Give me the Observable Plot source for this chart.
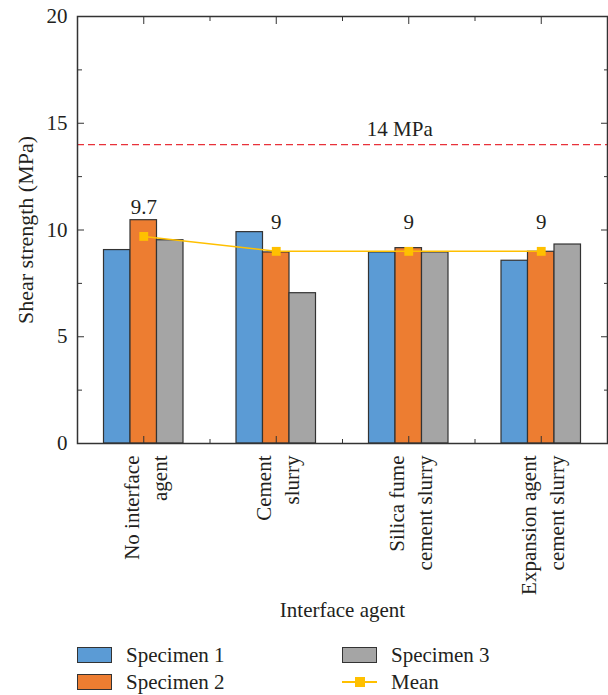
<!DOCTYPE html>
<html><head><meta charset="utf-8">
<script src="https://cdn.jsdelivr.net/npm/d3@7"></script>
<script src="https://cdn.jsdelivr.net/npm/@observablehq/plot@0.6"></script>
<style>
body{margin:0;background:#fff;font-family:'Liberation Serif',serif;color:#231f20;}
#wrap{position:relative;width:608px;height:695px;overflow:hidden;}
#wrap svg{position:absolute;left:0;top:0;}
#wrap svg, #wrap svg text{font-family:'Liberation Serif',serif !important;}
.lg-box{position:absolute;width:33px;height:14px;border:1.5px solid #333;}
.lg-text{position:absolute;font-size:21px;line-height:21px;white-space:nowrap;font-family:'Liberation Serif',serif;}
.lg-line{position:absolute;height:2px;background:#FFC000;}
.lg-sq{position:absolute;width:10px;height:10px;background:#FFC000;}
</style></head><body><div id="wrap"></div>
<script>
// ---- data ----
const categories = ["No interface\nagent", "Cement\nslurry", "Silica fume\ncement slurry", "Expansion agent\ncement slurry"];
const seriesNames = ["Specimen 1", "Specimen 2", "Specimen 3"];
const specimen1 = [9.06, 9.9, 8.95, 8.56];
const specimen2 = [10.46, 8.95, 9.15, 8.98];
const specimen3 = [9.52, 7.04, 8.95, 9.32];
const means = [9.7, 9, 9, 9];
const meanLabels = ["9.7", "9", "9", "9"];
const limitValue = 14;
const limitLabel = "14 MPa";
const yTicks = [0, 5, 10, 15, 20];
const yMinorTicks = [2.5, 7.5, 12.5, 17.5];
const yTitle = "Shear strength (MPa)";
const xTitle = "Interface agent";
const meanName = "Mean";

// ---- styles ----
const colors = ["#5B9BD5", "#ED7D31", "#A5A5A5"];
const meanColor = "#FFC000";
const FONT = "Liberation Serif";
const TXT = "#231f20";
const bw = 0.2; // bar width in category units

const rows = [];
[specimen1, specimen2, specimen3].forEach((vals, j) => {
  vals.forEach((v, i) => rows.push({i, j, v, s: seriesNames[j]}));
});
const meanRows = means.map((m, i) => ({i, m, label: meanLabels[i]}));
const catIdx = categories.map((c, i) => i);
const catBounds = categories.slice(1).map((c, i) => i + 0.5);
const tf = {fontFamily: FONT, fontSize: 21, fill: TXT};

const chart = Plot.plot({
  width: 608,
  height: 640,
  marginLeft: 77,
  marginRight: 1,
  marginTop: 16,
  marginBottom: 197,
  style: {fontFamily: FONT, fontSize: "21px", color: TXT, background: "transparent"},
  x: {type: "linear", domain: [-0.5, categories.length - 0.5]},
  y: {domain: [0, 20]},
  marks: [
    ...seriesNames.map((s, j) => Plot.rect(rows.filter(d => d.j === j), {
      x1: d => d.i + (d.j - 1.5) * bw,
      x2: d => d.i + (d.j - 0.5) * bw,
      y1: 0,
      y2: d => d.v,
      fill: colors[j],
      stroke: "#333",
      strokeWidth: 1.2
    })),
    Plot.ruleY([limitValue], {stroke: "#e8313a", strokeDasharray: "7,4", strokeWidth: 1.4}),
    Plot.text([limitValue], {y: d => d, x: 2, dx: -9, dy: -15, text: () => limitLabel, ...tf}),
    Plot.line(meanRows, {x: "i", y: "m", stroke: meanColor, strokeWidth: 1.5}),
    Plot.dot(meanRows, {x: "i", y: "m", symbol: "square", r: 5, fill: meanColor, stroke: "none"}),
    Plot.text(meanRows, {x: "i", y: "m", text: "label", dy: -29, ...tf}),
    Plot.frame({stroke: "#333", strokeWidth: 1.5}),
    Plot.axisY({anchor: "left", ticks: yTicks, tickSize: 7, dx: 7, tickFormat: () => "", label: null, stroke: "#333"}),
    Plot.axisY({anchor: "left", ticks: yMinorTicks, tickSize: 5, dx: 5, tickFormat: () => "", label: null, stroke: "#333"}),
    Plot.axisY({anchor: "right", ticks: yTicks, tickSize: 7, dx: -7, tickFormat: () => "", label: null, stroke: "#333"}),
    Plot.axisY({anchor: "right", ticks: yMinorTicks, tickSize: 4, dx: -4, tickFormat: () => "", label: null, stroke: "#333"}),
    Plot.axisX({anchor: "bottom", ticks: catIdx, tickSize: 7, dy: -7, tickFormat: () => "", label: null, stroke: "#333"}),
    Plot.axisX({anchor: "bottom", ticks: catBounds, tickSize: 4, dy: -4, tickFormat: () => "", label: null, stroke: "#333"}),
    Plot.axisX({anchor: "top", ticks: catIdx, tickSize: 7, dy: 7, tickFormat: () => "", label: null, stroke: "#333"}),
    Plot.axisX({anchor: "top", ticks: catBounds, tickSize: 4, dy: 4, tickFormat: () => "", label: null, stroke: "#333"}),
    Plot.axisY({anchor: "left", ticks: yTicks, tickSize: 0, tickPadding: 10, label: null, ...tf}),
    Plot.axisX({anchor: "bottom", ticks: catIdx, tickSize: 0, tickPadding: 12, tickRotate: -90,
      tickFormat: i => categories[i], lineHeight: 1.35, lineAnchor: "middle", textAnchor: "end", label: null, ...tf}),
    Plot.text([yTitle], {frameAnchor: "left", dx: -52, rotate: -90, textAnchor: "middle", lineAnchor: "middle", ...tf, fontSize: 22}),
    Plot.text([xTitle], {frameAnchor: "bottom", dy: 167, textAnchor: "middle", lineAnchor: "middle", ...tf})
  ]
});
const wrap = document.getElementById("wrap");
wrap.appendChild(chart);

const legendItems = [
  {label: seriesNames[0], color: colors[0], left: 77, top: 647},
  {label: seriesNames[1], color: colors[1], left: 77, top: 674},
  {label: seriesNames[2], color: colors[2], left: 342, top: 647},
  {label: meanName, color: meanColor, left: 342, top: 674, line: true}
];
legendItems.forEach(it => {
  if (it.line) {
    const l = document.createElement("div"); l.className = "lg-line";
    l.style.left = it.left + "px"; l.style.top = (it.top + 7) + "px"; l.style.width = "35px";
    wrap.appendChild(l);
    const q = document.createElement("div"); q.className = "lg-sq";
    q.style.left = (it.left + 13) + "px"; q.style.top = (it.top + 3) + "px";
    wrap.appendChild(q);
  } else {
    const b = document.createElement("div"); b.className = "lg-box";
    b.style.left = it.left + "px"; b.style.top = it.top + "px"; b.style.background = it.color;
    wrap.appendChild(b);
  }
  const t = document.createElement("div"); t.className = "lg-text";
  t.textContent = it.label;
  t.style.left = (it.left + 49) + "px"; t.style.top = (it.top - 2) + "px";
  wrap.appendChild(t);
});
</script>
</body></html>
